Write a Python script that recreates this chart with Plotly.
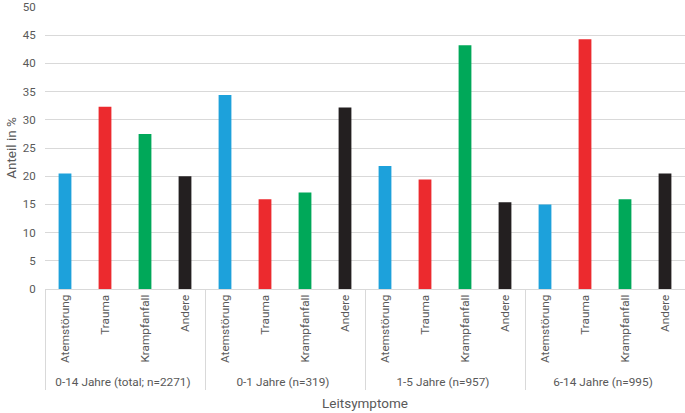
import plotly.graph_objects as go

groups = ["0-14 Jahre (total; n=2271)", "0-1 Jahre (n=319)", "1-5 Jahre (n=957)", "6-14 Jahre (n=995)"]
symptoms = ["Atemstörung", "Trauma", "Krampfanfall", "Andere"]
values = [
    [20.5, 32.3, 27.5, 20.0],
    [34.4, 15.9, 17.1, 32.2],
    [21.8, 19.4, 43.2, 15.4],
    [15.0, 44.3, 15.9, 20.5],
]
colors = ["#1DA1DB", "#EC2A2E", "#00A859", "#231F20"]

xg, xs, yv, cv = [], [], [], []
for g, vals in zip(groups, values):
    for s, v, c in zip(symptoms, vals, colors):
        xg.append(g); xs.append(s); yv.append(v); cv.append(c)

fig = go.Figure(go.Bar(x=[xg, xs], y=yv, marker=dict(color=cv, line_width=0), showlegend=False))

font = dict(family="Roboto, Liberation Sans, sans-serif", size=11.5, color="#595959")
fig.update_layout(
    width=685, height=413,
    margin=dict(l=45, r=0, t=7, b=124),
    plot_bgcolor="white", paper_bgcolor="white",
    font=font,
    bargap=0.68,
    xaxis=dict(
        type="multicategory", tickangle=-90, showline=True, linecolor="#d9d9d9", linewidth=1,
        showdividers=True, dividercolor="#d9d9d9", dividerwidth=1,
        ticks="outside", ticklen=3, tickcolor="rgba(0,0,0,0)",
        title=dict(text="Leitsymptome", standoff=10, font=dict(size=13.5)),
        tickfont=dict(size=11.8),
    ),
    yaxis=dict(
        range=[0, 50], dtick=5, showgrid=True, gridcolor="#d9d9d9", gridwidth=1,
        zeroline=False, ticks="outside", ticklen=6, tickcolor="rgba(0,0,0,0)",
        title=dict(text="Anteil in %", standoff=3, font=dict(size=13.5)),
    ),
)
fig.write_html("out.html")
